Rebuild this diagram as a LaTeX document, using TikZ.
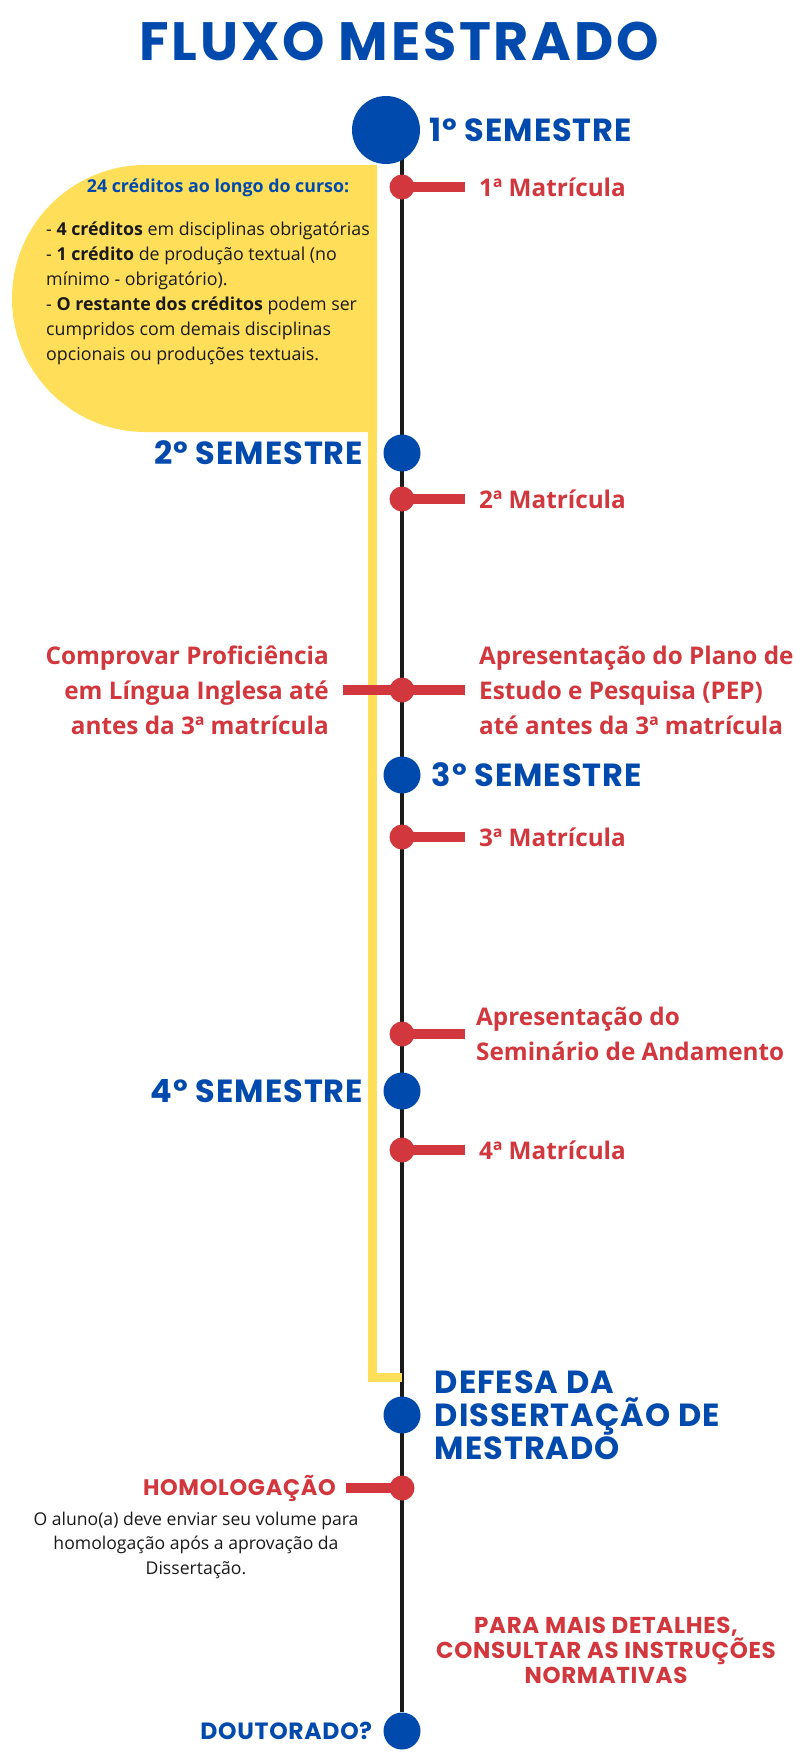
\documentclass[tikz,border=0pt]{standalone}
\usepackage{fontspec}
\setmainfont{Open Sans}
\newfontfamily\titulo{Poppins}[LetterSpace=3]
\usepackage{tikz}
\usetikzlibrary{
	positioning,
	shapes.misc,
	backgrounds
	}
\definecolor{azul}{HTML}{004AAD}
\definecolor{verm}{HTML}{D1373D}
\definecolor{amarelo}{HTML}{FFDE59}
\definecolor{linha}{HTML}{1A1A1A}
\tikzstyle{ponto-azul}=[fill=azul,circle,inner sep=0pt,minimum size=37pt]
\tikzstyle{ponto-grande}=[fill=azul,circle,inner sep=0pt,minimum size=68pt]
\tikzstyle{ponto-verm}=[fill=verm,circle,inner sep=0pt,minimum size=25pt]
\tikzstyle{braco}=[verm,line width=9.5pt]
\tikzstyle{rotulo-sem}=[text=azul,inner sep=0pt,font=\titulo\bfseries\fontsize{32}{33}\selectfont]
\tikzstyle{rotulo-verm}=[text=verm,inner sep=0pt,font=\bfseries\fontsize{24.3}{35}\selectfont]
\tikzstyle{rotulo-caps}=[text=verm,inner sep=0pt,font=\titulo\bfseries\fontsize{23}{25}\selectfont]

\begin{document}
\begin{tikzpicture}[x=1pt,y=-1pt]
\useasboundingbox (0,0) rectangle (795,1753);

\node[text=azul,font=\titulo\bfseries\fontsize{54}{56}\selectfont\addfontfeature{LetterSpace=5}] (titulo) at (399,41) {FLUXO MESTRADO};

\node[rounded rectangle,rounded rectangle right arc=none,fill=amarelo,inner sep=0pt,minimum width=365pt,minimum height=267pt] (caixa) at (194.5,298.5) {};
\node[text=azul,inner sep=0pt,font=\bfseries\fontsize{17.8}{20}\selectfont] at (218,188) {24 créditos ao longo do curso:};
\node[anchor=north west,align=left,inner sep=0pt,text=linha,font=\fontsize{17.8}{25}\selectfont] at (46,222) {- \textbf{4 créditos} em disciplinas obrigatórias\\- \textbf{1 crédito} de produção textual (no\\mínimo - obrigatório).\\- \textbf{O restante dos créditos} podem ser\\cumpridos com demais disciplinas\\opcionais ou produções textuais.};

\node[ponto-grande] (sem1) at (386,130) {};
\node[ponto-verm] (mat1) at (402,187) {};
\node[ponto-azul] (sem2) at (402,453) {};
\node[ponto-verm] (mat2) at (402,499) {};
\node[ponto-verm] (pep) at (402,690) {};
\node[ponto-azul] (sem3) at (402,775) {};
\node[ponto-verm] (mat3) at (402,837) {};
\node[ponto-verm] (seminario) at (402,1034) {};
\node[ponto-azul] (sem4) at (402,1091) {};
\node[ponto-verm] (mat4) at (402,1150) {};
\coordinate (fim-amarelo) at (402,1377);
\node[ponto-azul] (defesa) at (402,1415) {};
\node[ponto-verm] (homolog) at (402,1488) {};
\node[ponto-azul] (doutorado) at (402,1731) {};

\begin{pgfonlayer}{background}
\fill[white] (0,0) rectangle (795,1753);
\draw[linha,line width=4.5pt] (sem1.center -| doutorado) -- (doutorado);
\draw[amarelo,line width=9pt] ([xshift=-4.5pt]caixa.south east) |- (fim-amarelo);
\end{pgfonlayer}

\foreach \p in {mat1,mat2,pep,mat3,seminario,mat4}
	\draw[braco] (\p.center) -- ++(63,0);
\draw[braco] (pep.center) -- ++(-59,0);
\draw[braco] (homolog.center) -- ++(-56,0);

\node[rotulo-sem, right=9pt of sem1] {1º SEMESTRE};
\node[rotulo-sem, left=20pt of sem2] {2º SEMESTRE};
\node[rotulo-sem, right=11pt of sem3] {3º SEMESTRE};
\node[rotulo-sem, left=20pt of sem4] {4º SEMESTRE};
\node[rotulo-sem, right=14pt of defesa, align=left] {DEFESA DA\\DISSERTAÇÃO DE\\MESTRADO};
\node[rotulo-sem, left=11pt of doutorado, font=\titulo\bfseries\fontsize{23.5}{26}\selectfont] {DOUTORADO?};

\node[rotulo-verm, right=77pt] at (mat1) {1ª Matrícula};
\node[rotulo-verm, right=77pt] at (mat2) {2ª Matrícula};
\node[rotulo-verm, right=77pt, align=left] at (pep) {Apresentação do Plano de\\Estudo e Pesquisa (PEP)\\até antes da 3ª matrícula};
\node[rotulo-verm, left=73pt, align=right] at (pep) {Comprovar Proficiência\\em Língua Inglesa até\\antes da 3ª matrícula};
\node[rotulo-verm, right=77pt] at (mat3) {3ª Matrícula};
\node[rotulo-verm, right=74pt, align=left] at (seminario) {Apresentação do\\Seminário de Andamento};
\node[rotulo-verm, right=77pt] at (mat4) {4ª Matrícula};

\node[rotulo-caps, left=66pt, font=\titulo\bfseries\fontsize{22.5}{25}\selectfont] at (homolog) {HOMOLOGAÇÃO};
\node[align=center,inner sep=0pt,text=linha,font=\fontsize{17.6}{24.5}\selectfont] (nota) at (196,1545) {O aluno(a) deve enviar seu volume para\\homologação após a aprovação da\\Dissertação.};
\node[rotulo-caps, align=center] (detalhes) at (606,1650) {PARA MAIS DETALHES,\\CONSULTAR AS INSTRUÇÕES\\NORMATIVAS};
\end{tikzpicture}
\end{document}
